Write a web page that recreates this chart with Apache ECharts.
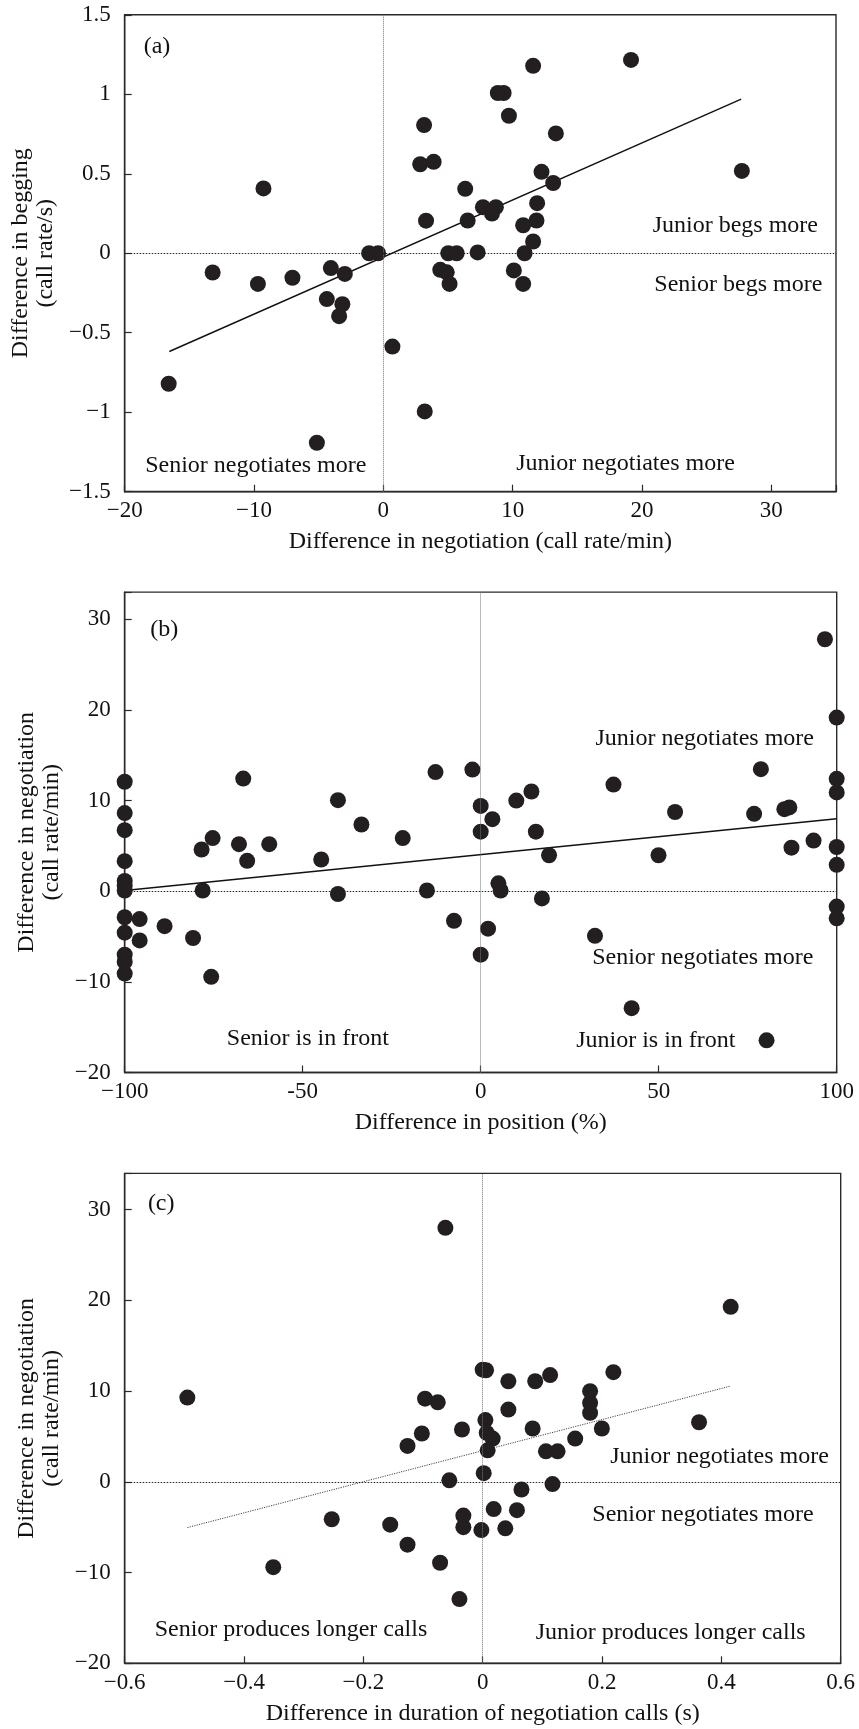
<!DOCTYPE html>
<html>
<head>
<meta charset="utf-8">
<script src="https://cdn.jsdelivr.net/npm/echarts@6/dist/echarts.min.js"></script>
<style>
html,body{margin:0;padding:0;background:#fff;}
#chart{width:859px;height:1729px;}
</style>
</head>
<body>
<div id="chart"></div>
<script>
// ---------- Panel (a): negotiation vs begging ----------
const aX = [-16.6,-13.2,-9.7,-9.27,-7.03,-5.14,-4.37,-4.06,-3.42,-3.17,-2.98,-1.1,-0.41,0.7,2.85,3.15,3.2,3.3,3.89,4.4,4.9,5.02,5.12,5.67,6.33,6.52,7.29,7.7,8.4,8.7,8.85,9.3,9.71,10.09,10.81,10.81,10.92,11.58,11.58,11.84,11.89,12.23,13.13,13.34,19.15,27.72];
const aY = [-0.821,-0.121,-0.193,0.408,-0.154,-1.192,-0.288,-0.093,-0.396,-0.321,-0.13,0,0,-0.587,0.56,0.806,-0.995,0.205,0.575,-0.104,-0.12,0,-0.193,0,0.405,0.206,0.005,0.29,0.25,0.29,1.008,1.008,0.865,-0.108,0.176,-0.193,0,1.179,0.074,0.206,0.315,0.512,0.442,0.754,1.216,0.518];
const aFitX = [-16.55, 27.67];
const aFitY = [-0.618, 0.969];
const aXTicks = [-20,-10,0,10,20,30];
const aXTickLabels = ['\u221220','\u221210','0','10','20','30'];
const aYTicks = [-1.5,-1,-0.5,0,0.5,1,1.5];
const aYTickLabels = ['\u22121.5','\u22121','\u22120.5','0','0.5','1','1.5'];

// ---------- Panel (b): position vs negotiation ----------
const bX = [-100,-100,-100,-100,-100,-100,-100,-100,-100,-100,-100,-100,
  -95.8,-95.8,-88.8,-80.8,-75.7,-78.4,-75.3,-78.1,-67.9,-66.7,-65.6,-59.4,-44.8,-40.1,-40.1,-33.5,-21.9,-15.1,-12.7,-2.33,0,0,3.28,10.0,14.25,15.5,19.2,4.97,5.6,-7.5,2.06,0,17.2,32.1,37.3,49.95,54.6,42.4,80.3,78.7,76.8,85.3,86.7,87.3,93.5,96.7,
  100,100,100,100,100,100,100];
const bY = [12.08,8.62,6.73,3.31,1.14,0.59,0.08,-2.87,-4.57,-7.0,-7.8,-9.09,
  -3.07,-5.43,-3.86,-5.16,-9.44,4.6,5.86,0.08,5.19,12.43,3.35,5.19,3.5,10.04,-0.31,7.36,5.86,0.08,13.14,13.42,9.41,6.57,7.95,10.0,11.0,6.57,3.97,0.87,0.08,-3.27,-4.13,-7.0,-0.79,-4.92,11.77,3.97,8.74,-12.9,-16.45,13.46,8.54,9.05,9.24,4.8,5.59,27.8,
  19.16,12.4,10.9,4.88,2.91,-1.69,-2.99];
const bFitX = [-100, 100];
const bFitY = [0.08, 7.99];
const bXTicks = [-100,-50,0,50,100];
const bXTickLabels = ['\u2212100','-50','0','50','100'];
const bYTicks = [-20,-10,0,10,20,30];
const bYTickLabels = ['\u221220','\u221210','0','10','20','30'];

// ---------- Panel (c): call duration vs negotiation ----------
const cX = [-0.495,-0.351,-0.253,-0.155,-0.126,-0.126,-0.102,-0.0966,-0.0753,-0.0625,0.4156,0,0.0056,0.043,0.088,0.113,0.219,0.18,0.18,0.18,0.1997,0.3626,0.043,-0.0347,0.0045,0.0067,0.0167,0.0083,0.0837,0.155,0.106,0.1255,0.0017,-0.0559,0.117,0.065,0.0184,0.0574,-0.0324,-0.0324,-0.0022,0.0379,-0.0714,-0.039];
const cY = [9.29,-9.4,-4.12,-4.72,-6.92,3.96,5.33,9.17,8.77,28.0,19.29,12.37,12.3,11.09,11.09,11.77,12.09,10.0,8.69,7.61,5.88,6.57,7.97,5.77,6.81,5.4,4.77,3.48,5.88,4.77,3.36,3.36,0.96,0.17,-0.24,-0.84,-3.0,-3.12,-3.72,-5.0,-5.32,-5.12,-8.92,-12.92];
const cFitX = [-0.495, 0.4156];
const cFitY = [-5.04, 10.56];
const cXTicks = [-0.6,-0.4,-0.2,0,0.2,0.4,0.6];
const cXTickLabels = ['\u22120.6','\u22120.4','\u22120.2','0','0.2','0.4','0.6'];
const cYTicks = [-20,-10,0,10,20,30];
const cYTickLabels = ['\u221220','\u221210','0','10','20','30'];

const FONT = "'Liberation Serif', 'DejaVu Serif', serif";
const INK = '#111';
const LINE = '#2a2a2a';

function zip(xs, ys){ return xs.map((x,i)=>[x, ys[i]]); }
function fmt(ticks, labels){
  return function(v){
    for (let i=0;i<ticks.length;i++){ if (Math.abs(ticks[i]-v) < 1e-6) return labels[i]; }
    return '';
  };
}
function xAxisCfg(g, min, max, interval, ticks, labels, name){
  return {
    type:'value', gridIndex:g, min:min, max:max, interval:interval,
    axisLine:{show:true, onZero:false, lineStyle:{color:LINE, width:1.4}},
    axisTick:{show:true, inside:true, length:7, lineStyle:{color:LINE, width:1.2}},
    axisLabel:{formatter:fmt(ticks, labels), fontSize:23, fontFamily:FONT, color:INK, margin:8},
    splitLine:{show:false},
    name:name, nameLocation:'middle', nameGap:38,
    nameTextStyle:{fontSize:24, fontFamily:FONT, color:INK}
  };
}
function yAxisCfg(g, min, max, interval, ticks, labels, name){
  return {
    type:'value', gridIndex:g, min:min, max:max, interval:interval,
    axisLine:{show:true, onZero:false, lineStyle:{color:LINE, width:1.4}},
    axisTick:{show:true, inside:true, length:7, lineStyle:{color:LINE, width:1.2}},
    axisLabel:{formatter:fmt(ticks, labels), fontSize:23, fontFamily:FONT, color:INK, margin:14},
    splitLine:{show:false},
    name:name, nameLocation:'middle', nameRotate:90, nameGap:60,
    nameTextStyle:{fontSize:24, fontFamily:FONT, color:INK, lineHeight:25, align:'center'}
  };
}
function scatter(g, xs, ys){
  return {
    type:'scatter', xAxisIndex:g, yAxisIndex:g, data:zip(xs, ys),
    symbol:'circle', symbolSize:16, itemStyle:{color:'#231f20', opacity:1},
    silent:true, z:3,
    markLine:{
      silent:true, symbol:['none','none'], label:{show:false},
      data:[
        {xAxis:0, lineStyle:{type:[1,1], color:'#777', width:1}},
        {yAxis:0, lineStyle:{type:[1.5,1.5], color:'#222', width:1.1}}
      ],
      animation:false
    }
  };
}
function fit(g, xs, ys, style){
  return {
    type:'line', xAxisIndex:g, yAxisIndex:g, data:zip(xs, ys),
    symbol:'none', silent:true, z:2, lineStyle:style
  };
}
function txt(x, y, s){
  return {type:'text', x:x, y:y, silent:true, z:10,
    style:{text:s, font:"24px " + FONT, fill:INK, textAlign:'center', textVerticalAlign:'middle'}};
}

const option = {
  animation:false,
  backgroundColor:'#fff',
  grid:[
    {left:124.7, top:14.8, width:711.3, height:476.9, show:true, borderColor:LINE, borderWidth:1.4, containLabel:false},
    {left:124.7, top:592.1, width:712, height:480.4, show:true, borderColor:LINE, borderWidth:1.4, containLabel:false},
    {left:124.7, top:1173.4, width:716, height:489.9, show:true, borderColor:LINE, borderWidth:1.4, containLabel:false}
  ],
  xAxis:[
    xAxisCfg(0, -20, 35, 10, aXTicks, aXTickLabels, 'Difference in negotiation (call rate/min)'),
    xAxisCfg(1, -100, 100, 50, bXTicks, bXTickLabels, 'Difference in position (%)'),
    xAxisCfg(2, -0.6, 0.6, 0.2, cXTicks, cXTickLabels, 'Difference in duration of negotiation calls (s)')
  ],
  yAxis:[
    yAxisCfg(0, -1.5, 1.5, 0.5, aYTicks, aYTickLabels, 'Difference in begging\n(call rate/s)'),
    yAxisCfg(1, -20, 33, 10, bYTicks, bYTickLabels, 'Difference in negotiation\n(call rate/min)'),
    yAxisCfg(2, -20, 34, 10, cYTicks, cYTickLabels, 'Difference in negotiation\n(call rate/min)')
  ],
  series:[
    scatter(0, aX, aY),
    fit(0, aFitX, aFitY, {color:'#111', width:1.4, type:'solid'}),
    scatter(1, bX, bY),
    fit(1, bFitX, bFitY, {color:'#111', width:1.4, type:'solid'}),
    scatter(2, cX, cY),
    fit(2, cFitX, cFitY, {color:'#444', width:1, type:[1.2,1.2]})
  ],
  graphic:[
    txt(157, 46.7, '(a)'),
    txt(735.3, 225.5, 'Junior begs more'),
    txt(738.3, 284.4, 'Senior begs more'),
    txt(255.8, 465.6, 'Senior negotiates more'),
    txt(625.5, 463.8, 'Junior negotiates more'),
    txt(164.2, 629.6, '(b)'),
    txt(704.7, 738.6, 'Junior negotiates more'),
    txt(702.8, 957.5, 'Senior negotiates more'),
    txt(307.8, 1038.6, 'Senior is in front'),
    txt(655.8, 1040.4, 'Junior is in front'),
    txt(161.2, 1203.5, '(c)'),
    txt(719.5, 1456.8, 'Junior negotiates more'),
    txt(703, 1514.9, 'Senior negotiates more'),
    txt(291, 1630, 'Senior produces longer calls'),
    txt(670.7, 1632.5, 'Junior produces longer calls')
  ]
};
const chart = echarts.init(document.getElementById('chart'), null, {renderer:'canvas', width:859, height:1729});
chart.setOption(option);
</script>
</body>
</html>
